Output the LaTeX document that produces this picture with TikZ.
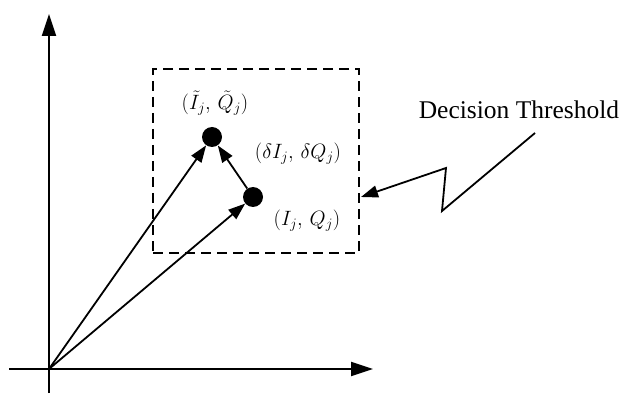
\documentclass[tikz,border=0pt]{standalone}
\usepackage{fontspec}
\setmainfont{Liberation Serif}
\usetikzlibrary{arrows.meta}

\begin{document}
\begin{tikzpicture}[x=1pt, y=-1pt,
  axis/.style={line width=1.8pt, -{Triangle[length=22pt, width=14pt]}},
  vec/.style={line width=1.8pt, -{Triangle[length=17pt, width=12pt]}},
  dot/.style={circle, fill, inner sep=0pt, minimum size=20pt},
  lbl/.style={font=\fontsize{20}{24}\selectfont},
  thresh/.style={draw, dashed, dash pattern=on 10pt off 6pt, line width=1.6pt, minimum width=206pt, minimum height=184pt}]
\useasboundingbox (0,0) rectangle (623,403);
% axes
\coordinate (O) at (49,369);
\coordinate (xs) at (9,369);
\coordinate (xe) at (373,369);
\coordinate (ys) at (49,393);
\coordinate (ye) at (49,14);
\draw[axis] (xs) -- (xe);
\draw[axis] (ys) -- (ye);
% threshold box and points
\node[thresh] (box) at (256,161) {};
\node[dot] (p) at (253,197) {};
\node[dot] (pt) at (212,137) {};
\draw[vec] (O) -- (p);
\draw[vec] (O) -- (pt);
\draw[vec] (p) -- (pt);
\node[lbl] (lpt) at (215,103) {$(\tilde{I}_j,\, \tilde{Q}_j)$};
\node[lbl] (ld) at (298,154) {$(\delta I_j,\, \delta Q_j)$};
\node[lbl] (lp) at (307,221) {$(I_j,\, Q_j)$};
% label with zigzag pointer
\node[font=\fontsize{25.5}{30}\selectfont] (dt) at (519,110) {Decision Threshold};
\coordinate (z0) at (535,133);
\coordinate (z1) at (442,211);
\coordinate (z2) at (446,168);
\coordinate (z3) at (361,197);
\draw[vec] (z0) -- (z1) -- (z2) -- (z3);
\end{tikzpicture}
\end{document}
